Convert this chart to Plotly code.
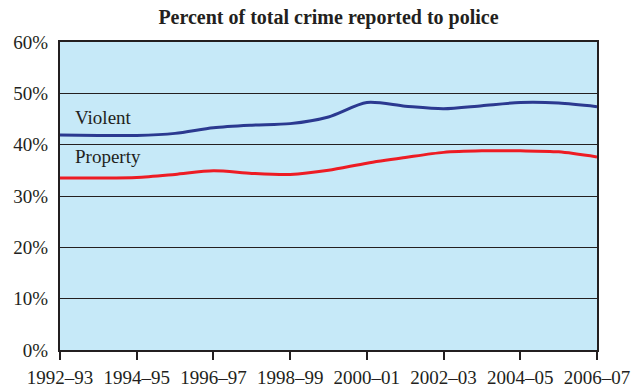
import plotly.graph_objects as go

years = ["1992–93", "1993–94", "1994–95", "1995–96", "1996–97", "1997–98",
         "1998–99", "1999–00", "2000–01", "2001–02", "2002–03", "2003–04",
         "2004–05", "2005–06", "2006–07"]
violent = [41.9, 41.8, 41.8, 42.2, 43.3, 43.8, 44.1, 45.4, 48.2, 47.5,
           47.0, 47.6, 48.2, 48.1, 47.4]
prop = [33.5, 33.5, 33.6, 34.2, 34.9, 34.4, 34.2, 35.0, 36.4, 37.5,
        38.5, 38.8, 38.8, 38.6, 37.6]
y_ticks = [0, 10, 20, 30, 40, 50, 60]
x_ticks = years[::2]

FONT = "Liberation Serif"

fig = go.Figure()
fig.add_trace(go.Scatter(x=years, y=violent, mode="lines",
                         line=dict(color="#2B3990", width=3, shape="spline", smoothing=0.8),
                         name="Violent", hoverinfo="skip"))
fig.add_trace(go.Scatter(x=years, y=prop, mode="lines",
                         line=dict(color="#ED1C24", width=3, shape="spline", smoothing=0.8),
                         name="Property", hoverinfo="skip"))

fig.add_annotation(x=0.35, y=45.3, xref="x", yref="y", text="Violent", showarrow=False,
                   xanchor="left", yanchor="middle", font=dict(family=FONT, size=19, color="#231f20"))
fig.add_annotation(x=0.35, y=37.6, xref="x", yref="y", text="Property", showarrow=False,
                   xanchor="left", yanchor="middle", font=dict(family=FONT, size=19, color="#231f20"))

fig.update_layout(
    width=644, height=387,
    margin=dict(l=60, r=47, t=42, b=37),
    paper_bgcolor="white",
    plot_bgcolor="#C6E9F8",
    showlegend=False,
    title=dict(text="<b>Percent of total crime reported to police</b>",
               x=0.5, xref="paper", xanchor="center", y=1 - 17 / 387, yanchor="middle", yref="container",
               font=dict(family=FONT, size=20, color="#231f20")),
    font=dict(family=FONT, size=19, color="#231f20"),
)
fig.update_xaxes(
    type="category", range=[0, len(years) - 1], automargin=False,
    tickvals=x_ticks, ticktext=x_ticks,
    ticks="outside", ticklen=8, tickwidth=2, tickcolor="#231f20",
    showline=True, linewidth=2, linecolor="#231f20", mirror=True,
    showgrid=False, ticklabelstandoff=1,
    tickfont=dict(family=FONT, size=19, color="#231f20"),
)
fig.update_yaxes(
    range=[0, 60], tickvals=y_ticks, ticktext=[f"{v}%" for v in y_ticks], automargin=False,
    showline=True, linewidth=2, linecolor="#231f20", mirror=True,
    showgrid=True, gridcolor="#231f20", gridwidth=1, zeroline=False,
    ticks="", ticklabelstandoff=6,
    tickfont=dict(family=FONT, size=19, color="#231f20"),
)

fig.write_html("out.html")
